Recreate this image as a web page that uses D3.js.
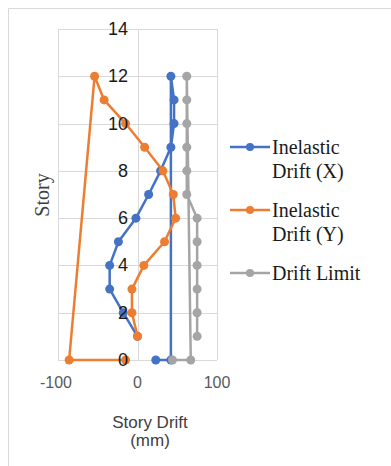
<!DOCTYPE html>
<html lang="en">
	<head>
		<meta charset="utf-8">
		<title>Story drift</title>
		<style type="text/css">
			body { margin: 0; background: #fff; }
		</style>
	</head>
	<body>
		<script src="https://d3js.org/d3.v7.min.js"></script>
		<script type="text/javascript">
			//Width and height
			var w = 391;
			var h = 466;

			//Data: story levels and drift (mm), in plotted order
			var storyX = [0, 0, 12, 11, 10, 9, 8, 7, 6, 5, 4, 3, 2, 1];
			var driftX = [23, 42, 42, 46, 46, 42, 29, 14, -2, -24, -35, -35, -18, 0];

			var storyY = [0, 0, 12, 11, 10, 9, 8, 7, 6, 5, 4, 3, 2, 1];
			var driftY = [-15, -86, -54, -42, -15, 9, 32, 45, 48, 34, 8, -7, -7, 0];

			var storyLimit = [0, 0, 12, 11, 10, 9, 8, 7, 6, 5, 4, 3, 2, 1];
			var driftLimit = [44, 67, 62, 62, 62, 62, 62, 62, 75, 75, 75, 75, 75, 75];

			var seriesNames = [["Inelastic", "Drift (X)"], ["Inelastic", "Drift (Y)"], ["Drift Limit"]];
			var colors = ["#4472C4", "#ED7D31", "#A5A5A5"];

			var xTicks = [-100, 0, 100];
			var yTicks = [0, 2, 4, 6, 8, 10, 12, 14];

			var series = [
				d3.zip(driftX, storyX),
				d3.zip(driftY, storyY),
				d3.zip(driftLimit, storyLimit)
			];

			//Scales
			var xScale = d3.scaleLinear()
							.domain([-100, 100])
							.range([58, 217]);

			var yScale = d3.scaleLinear()
							.domain([0, 14])
							.range([360, 29]);

			var svg = d3.select("body")
						.append("svg")
						.attr("width", w)
						.attr("height", h);

			//Chart frame (left and top edges only)
			svg.append("path")
			   .attr("d", "M8.5," + h + "V8.5H" + w)
			   .attr("fill", "none")
			   .attr("stroke", "#d9d9d9");

			//Gridlines
			svg.append("g")
			   .selectAll("line")
			   .data(yTicks)
			   .enter()
			   .append("line")
			   .attr("x1", xScale(-100))
			   .attr("x2", xScale(100))
			   .attr("y1", function(d) { return Math.round(yScale(d)) + 0.5; })
			   .attr("y2", function(d) { return Math.round(yScale(d)) + 0.5; })
			   .attr("stroke", "#d9d9d9");

			svg.append("g")
			   .selectAll("line")
			   .data(xTicks)
			   .enter()
			   .append("line")
			   .attr("x1", function(d) { return Math.round(xScale(d)) + 0.5; })
			   .attr("x2", function(d) { return Math.round(xScale(d)) + 0.5; })
			   .attr("y1", yScale(0))
			   .attr("y2", yScale(14))
			   .attr("stroke", "#d9d9d9");

			//Series lines and markers
			var line = d3.line()
						 .x(function(d) { return xScale(d[0]); })
						 .y(function(d) { return yScale(d[1]); });

			series.forEach(function(s, i) {
				var g = svg.append("g");
				g.append("path")
				 .attr("d", line(s))
				 .attr("fill", "none")
				 .attr("stroke", colors[i])
				 .attr("stroke-width", 2.5)
				 .attr("stroke-linejoin", "round");
				g.selectAll("circle")
				 .data(s)
				 .enter()
				 .append("circle")
				 .attr("cx", function(d) { return xScale(d[0]); })
				 .attr("cy", function(d) { return yScale(d[1]); })
				 .attr("r", 4.5)
				 .attr("fill", colors[i]);
			});

			//Y tick labels, sitting on the zero line
			svg.append("g")
			   .selectAll("text")
			   .data(yTicks)
			   .enter()
			   .append("text")
			   .text(function(d) { return d; })
			   .attr("x", 128)
			   .attr("y", function(d) { return yScale(d) + 6; })
			   .attr("text-anchor", "end")
			   .attr("font-family", "Liberation Sans, Arial, sans-serif")
			   .attr("font-size", "18px")
			   .attr("fill", "#1a1a1a");

			//X tick labels
			svg.append("g")
			   .selectAll("text")
			   .data(xTicks)
			   .enter()
			   .append("text")
			   .text(function(d) { return d; })
			   .attr("x", function(d) { return xScale(d) + (d < 0 ? -2 : 0); })
			   .attr("y", 388)
			   .attr("text-anchor", "middle")
			   .attr("font-family", "Liberation Sans, Arial, sans-serif")
			   .attr("font-size", "16px")
			   .attr("fill", "#595959");

			//Axis titles
			svg.append("text")
			   .text("Story")
			   .attr("transform", "translate(49,195) rotate(-90)")
			   .attr("text-anchor", "middle")
			   .attr("font-family", "Liberation Serif, Times New Roman, serif")
			   .attr("font-size", "20px")
			   .attr("fill", "#404040");

			var xTitle = svg.append("text")
							.attr("text-anchor", "middle")
							.attr("font-family", "Liberation Sans, Arial, sans-serif")
							.attr("font-size", "17px")
							.attr("fill", "#404040");
			xTitle.append("tspan").attr("x", 150).attr("y", 428).text("Story Drift");
			xTitle.append("tspan").attr("x", 150).attr("y", 446).text("(mm)");

			//Legend
			var legendY = [147, 210, 273];
			var legend = svg.append("g")
							.selectAll("g")
							.data(seriesNames)
							.enter()
							.append("g")
							.attr("transform", function(d, i) { return "translate(0," + legendY[i] + ")"; });

			legend.append("line")
				  .attr("x1", 230)
				  .attr("x2", 270)
				  .attr("stroke", function(d, i) { return colors[i]; })
				  .attr("stroke-width", 2.5);

			legend.append("circle")
				  .attr("cx", 250)
				  .attr("r", 4)
				  .attr("fill", function(d, i) { return colors[i]; });

			legend.append("text")
				  .attr("font-family", "Liberation Serif, Times New Roman, serif")
				  .attr("font-size", "20px")
				  .attr("fill", "#1a1a1a")
				  .selectAll("tspan")
				  .data(function(d) { return d; })
				  .enter()
				  .append("tspan")
				  .attr("x", 272)
				  .attr("y", function(d, j) { return 7 + j * 24; })
				  .text(function(d) { return d; });
		</script>
	</body>
</html>
